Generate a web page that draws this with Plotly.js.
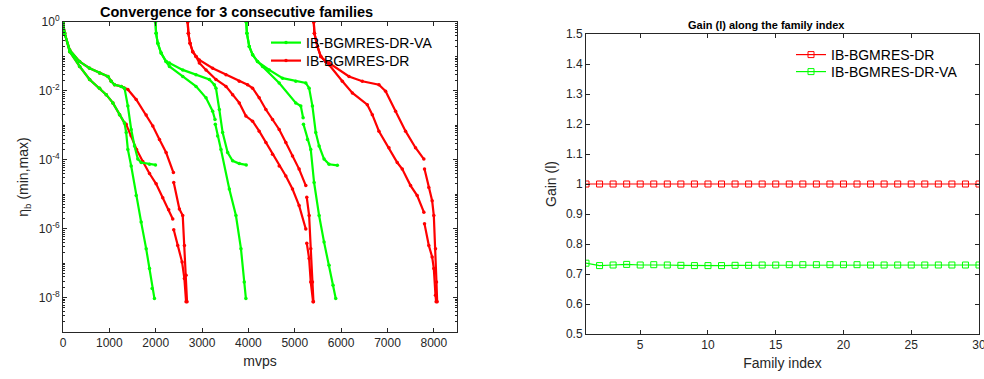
<!DOCTYPE html>
<html>
<head>
<meta charset="utf-8">
<script src="https://cdn.plot.ly/plotly-3.0.1.min.js"></script>
<style>html,body{margin:0;padding:0;background:#fff}#chart{width:984px;height:379px}</style>
</head>
<body>
<div id="chart"></div>
<script>
// ---------- Left panel: eta_b (min,max) vs mvps, 3 consecutive families ----------
// IB-BGMRES-DR-VA, max curve (families separated by null)
const vaMaxX = [0,36,144,359,574,789,969,1040,1112,1256,1327,1399,1471,1543,1614,1686,1866,1995, null,
  1995,2009,2045,2117,2224,2296,2583,2870,3157,3265,3300,3372,3444,3552,3659,3803,3953, null,
  3953,3968,4018,4090,4197,4449,4736,5022,5238,5310,5381,5453,5525,5632,5740,5919];
const vaMaxY = [1,0.468,0.155,0.0708,0.0457,0.0331,0.0263,0.0191,0.0151,0.0135,0.0120,0.00363,7.59e-4,2.51e-4,1.05e-4,8.32e-5,7.41e-5,7.08e-5, null,
  1,0.468,0.240,0.126,0.0708,0.0646,0.0407,0.0295,0.0214,0.0151,0.0120,0.00288,6.17e-4,1.62e-4,9.33e-5,7.76e-5,7.08e-5, null,
  1,0.468,0.195,0.112,0.0708,0.0407,0.0234,0.0191,0.0170,0.0120,0.00363,6.17e-4,2.51e-4,1.05e-4,7.41e-5,6.92e-5];
// IB-BGMRES-DR-VA, min curve
const vaMinX = [0,36,144,359,574,789,933,1076,1220,1327,1363,1399,1471,1579,1686,1794,1866,1923,1973, null,
  1995,2009,2045,2117,2224,2296,2583,2870,3085,3229,3279,null,3286,3336,3408,3588,3731,3839,3910,3946, null,
  3953,3968,4018,4090,4197,4305,4664,5022,5130,5180,null,5188,5274,5345,5417,5525,5632,5740,5826,5884];
const vaMinY = [1,0.468,0.138,0.0513,0.0214,0.0120,0.00776,0.00447,0.00204,0.00117,6.17e-4,2.0e-4,6.61e-5,9.12e-6,1.55e-6,2.63e-7,6.92e-8,1.82e-8,9.33e-9, null,
  1,0.468,0.240,0.126,0.0708,0.0513,0.0263,0.0135,0.00631,0.00257,0.00148,null,0.00107,4.90e-4,2.0e-4,1.41e-5,2.40e-6,2.63e-7,2.82e-8,9.33e-9, null,
  1,0.468,0.195,0.112,0.0708,0.0513,0.0170,0.00447,0.00363,0.00166,null,0.00107,3.89e-4,2.0e-4,2.19e-5,2.40e-6,4.07e-7,8.71e-8,2.29e-8,9.33e-9];
// IB-BGMRES-DR, max curve
const drMaxX = [0,36,144,359,574,789,969,1040,1112,1256,1327,1399,1579,1794,1937,2081,2224,2382,null,2389,2511,2583,2619,2655,2676, null,
  2690,2705,2741,2798,2870,2942,3229,3516,3803,3982,4090,4233,4377,4520,4664,4807,4951,5094,5238,null,5259,5310,5345,5381,5403, null,
  5410,5424,5489,5561,5668,5740,6170,6457,6816,6960,7175,7390,7605,7785,null,7799,7892,7964,8000,8036,8057,8072];
const drMaxY = [1,0.468,0.155,0.0708,0.0457,0.0331,0.0263,0.0191,0.0151,0.0135,0.0120,0.0110,0.00562,0.00200,9.55e-4,3.89e-4,1.62e-4,4.27e-5,null,2.19e-5,3.72e-6,2.40e-6,3.24e-7,4.47e-8,7.59e-9, null,
  1,0.468,0.240,0.138,0.1,0.0794,0.0457,0.0295,0.0191,0.0151,0.0120,0.00631,0.00288,0.00148,7.59e-4,3.16e-4,1.29e-4,5.37e-5,1.78e-5,null,8.13e-6,2.40e-6,2.63e-7,2.82e-8,7.59e-9, null,
  1,0.468,0.195,0.1,0.0708,0.0646,0.0263,0.0191,0.0151,0.00977,0.00257,6.76e-4,2.24e-4,1.05e-4,null,5.37e-5,1.58e-5,6.46e-6,2.40e-6,2.63e-7,2.82e-8,7.59e-9];
// IB-BGMRES-DR, min curve
const drMinX = [0,36,144,359,574,789,933,1076,1220,1327,1363,1471,1586,1722,1866,2009,2152,2280,2368,null,2389,2475,2569,2619,2655, null,
  2690,2705,2741,2798,2870,2942,3085,3300,3516,3659,3803,3946,4090,4233,4377,4520,4664,4807,4951,5094,5238,null,5259,5310,5345,5395, null,
  5410,5424,5489,5561,5668,5740,6027,6243,6565,6673,6816,7032,7211,7319,7498,7641,7785,null,7799,7892,7964,8000,8036,8050];
const drMinY = [1,0.468,0.138,0.0513,0.0214,0.0120,0.00776,0.00447,0.00204,0.00117,0.00107,5.01e-4,2.0e-4,8.91e-5,3.98e-5,2.0e-5,7.94e-6,3.55e-6,1.91e-6,null,9.33e-7,3.24e-7,1.07e-7,3.55e-8,7.59e-9, null,
  1,0.468,0.240,0.138,0.1,0.0646,0.0407,0.0214,0.0135,0.00776,0.00447,0.00186,0.00132,6.76e-4,3.16e-4,1.45e-4,6.61e-5,3.39e-5,1.41e-5,4.68e-6,9.77e-7,null,3.80e-7,1.35e-7,2.82e-8,7.59e-9, null,
  1,0.468,0.195,0.1,0.0708,0.0575,0.0191,0.00871,0.00398,0.00204,6.76e-4,2.24e-4,8.32e-5,5.37e-5,1.78e-5,9.12e-6,3.02e-6,null,1.38e-6,3.24e-7,1.51e-7,6.92e-8,1.17e-8,7.59e-9];

const mvpsTicks = [0,1000,2000,3000,4000,5000,6000,7000,8000];
const etaTickVals = [1e-8,1e-6,1e-4,1e-2,1];
const etaTickText = ['10<sup>-8</sup>','10<sup>-6</sup>','10<sup>-4</sup>','10<sup>-2</sup>','10<sup>0</sup>'];

// ---------- Right panel: Gain (l) along the family index ----------
const familyIndex = [1,2,3,4,5,6,7,8,9,10,11,12,13,14,15,16,17,18,19,20,21,22,23,24,25,26,27,28,29,30];
const gainDR = [1,1,1,1,1,1,1,1,1,1,1,1,1,1,1,1,1,1,1,1,1,1,1,1,1,1,1,1,1,1];
const gainVA = [0.736,0.728,0.730,0.732,0.730,0.731,0.730,0.729,0.728,0.728,0.728,0.729,0.729,0.730,0.730,
                0.731,0.731,0.731,0.731,0.731,0.731,0.730,0.730,0.730,0.730,0.730,0.730,0.730,0.730,0.730];
const familyTicks = [5,10,15,20,25,30];
const gainTicks = [0.5,0.6,0.7,0.8,0.9,1,1.1,1.2,1.3,1.4,1.5];

const GREEN = '#00ff00', RED = '#ff0000', AX = '#262626';
const FONT = 'Liberation Sans, Arial, Helvetica, sans-serif';

function curve(x, y, color, name, show, leg) {
  return {x: x, y: y, type: 'scatter', mode: 'lines+markers', name: name,
    legendgroup: name, showlegend: show, connectgaps: false,
    line: {color: color, width: 2.2}, marker: {color: color, size: 3.5, symbol: 'circle'},
    xaxis: 'x', yaxis: 'y', legend: leg, hoverinfo: 'skip'};
}

const traces = [
  curve(drMaxX, drMaxY, RED, 'IB-BGMRES-DR', true, 'legend3'),
  curve(drMinX, drMinY, RED, 'IB-BGMRES-DR', false, 'legend3'),
  curve(vaMaxX, vaMaxY, GREEN, 'IB-BGMRES-DR-VA', true, 'legend'),
  curve(vaMinX, vaMinY, GREEN, 'IB-BGMRES-DR-VA', false, 'legend'),
  {x: familyIndex, y: gainDR, type: 'scatter', mode: 'lines+markers', name: 'IB-BGMRES-DR',
   line: {color: RED, width: 1.2}, marker: {symbol: 'square-open', size: 6, color: RED, line: {width: 1}},
   xaxis: 'x2', yaxis: 'y2', legend: 'legend2', hoverinfo: 'skip'},
  {x: familyIndex, y: gainVA, type: 'scatter', mode: 'lines+markers', name: 'IB-BGMRES-DR-VA',
   line: {color: GREEN, width: 1.2}, marker: {symbol: 'square-open', size: 6, color: GREEN, line: {width: 1}},
   xaxis: 'x2', yaxis: 'y2', legend: 'legend4', hoverinfo: 'skip'}
];

const W = 984, H = 379;
const px = v => v / W, py = v => 1 - v / H;

const axCommon = {showline: true, linecolor: AX, linewidth: 1, mirror: 'ticks', ticks: 'inside',
  ticklen: 4, tickcolor: AX, showgrid: false, zeroline: false, ticklabeloverflow: 'allow',
  tickfont: {family: FONT, size: 12, color: AX}};

function leg(x, y) {
  return {x: px(x), y: py(y), xanchor: 'left', yanchor: 'middle', bgcolor: 'rgba(0,0,0,0)',
    borderwidth: 0, font: {family: FONT, size: 14, color: '#000'}, itemwidth: 30};
}

const layout = {
  width: W, height: H, margin: {l: 0, r: 0, t: 0, b: 0},
  paper_bgcolor: '#fff', plot_bgcolor: '#fff',
  font: {family: FONT, color: AX},
  showlegend: true,
  xaxis: Object.assign({}, axCommon, {domain: [px(63), px(457)], range: [0, 8500],
    tickmode: 'array', tickvals: mvpsTicks, anchor: 'y',
    title: {text: 'mvps', font: {family: FONT, size: 14, color: AX}, standoff: 6}}),
  yaxis: Object.assign({}, axCommon, {domain: [py(332), py(22)], type: 'log', range: [-9, 0],
    tickmode: 'array', tickvals: etaTickVals, ticktext: etaTickText, anchor: 'x',
    minor: {ticks: 'inside', ticklen: 2, tickcolor: AX, dtick: 'D1', showgrid: false},
    title: {text: 'η<sub>b</sub> (min,max)', font: {family: FONT, size: 14, color: AX}, standoff: 6}}),
  xaxis2: Object.assign({}, axCommon, {domain: [px(586), px(979)], range: [1, 30],
    tickmode: 'array', tickvals: familyTicks, anchor: 'y2',
    title: {text: 'Family index', font: {family: FONT, size: 14, color: AX}, standoff: 6}}),
  yaxis2: Object.assign({}, axCommon, {domain: [py(334), py(34)], range: [0.5, 1.5],
    tickmode: 'array', tickvals: gainTicks, anchor: 'x2',
    title: {text: 'Gain (l)', font: {family: FONT, size: 14, color: AX}, standoff: 6}}),
  legend: leg(266, 43),
  legend3: leg(266, 61),
  legend2: leg(791, 55),
  legend4: leg(791, 72),
  annotations: [
    {text: '<b>Convergence for 3 consecutive families</b>', xref: 'paper', yref: 'paper',
     x: px(236), y: py(12), xanchor: 'center', yanchor: 'middle', showarrow: false,
     font: {family: FONT, size: 14.5, color: '#000'}},
    {text: '<b>Gain (l) along the family index</b>', xref: 'paper', yref: 'paper',
     x: px(766), y: py(25), xanchor: 'center', yanchor: 'middle', showarrow: false,
     font: {family: FONT, size: 11, color: '#000'}}
  ]
};

Plotly.newPlot('chart', traces, layout, {staticPlot: true, displayModeBar: false});
</script>
</body>
</html>
